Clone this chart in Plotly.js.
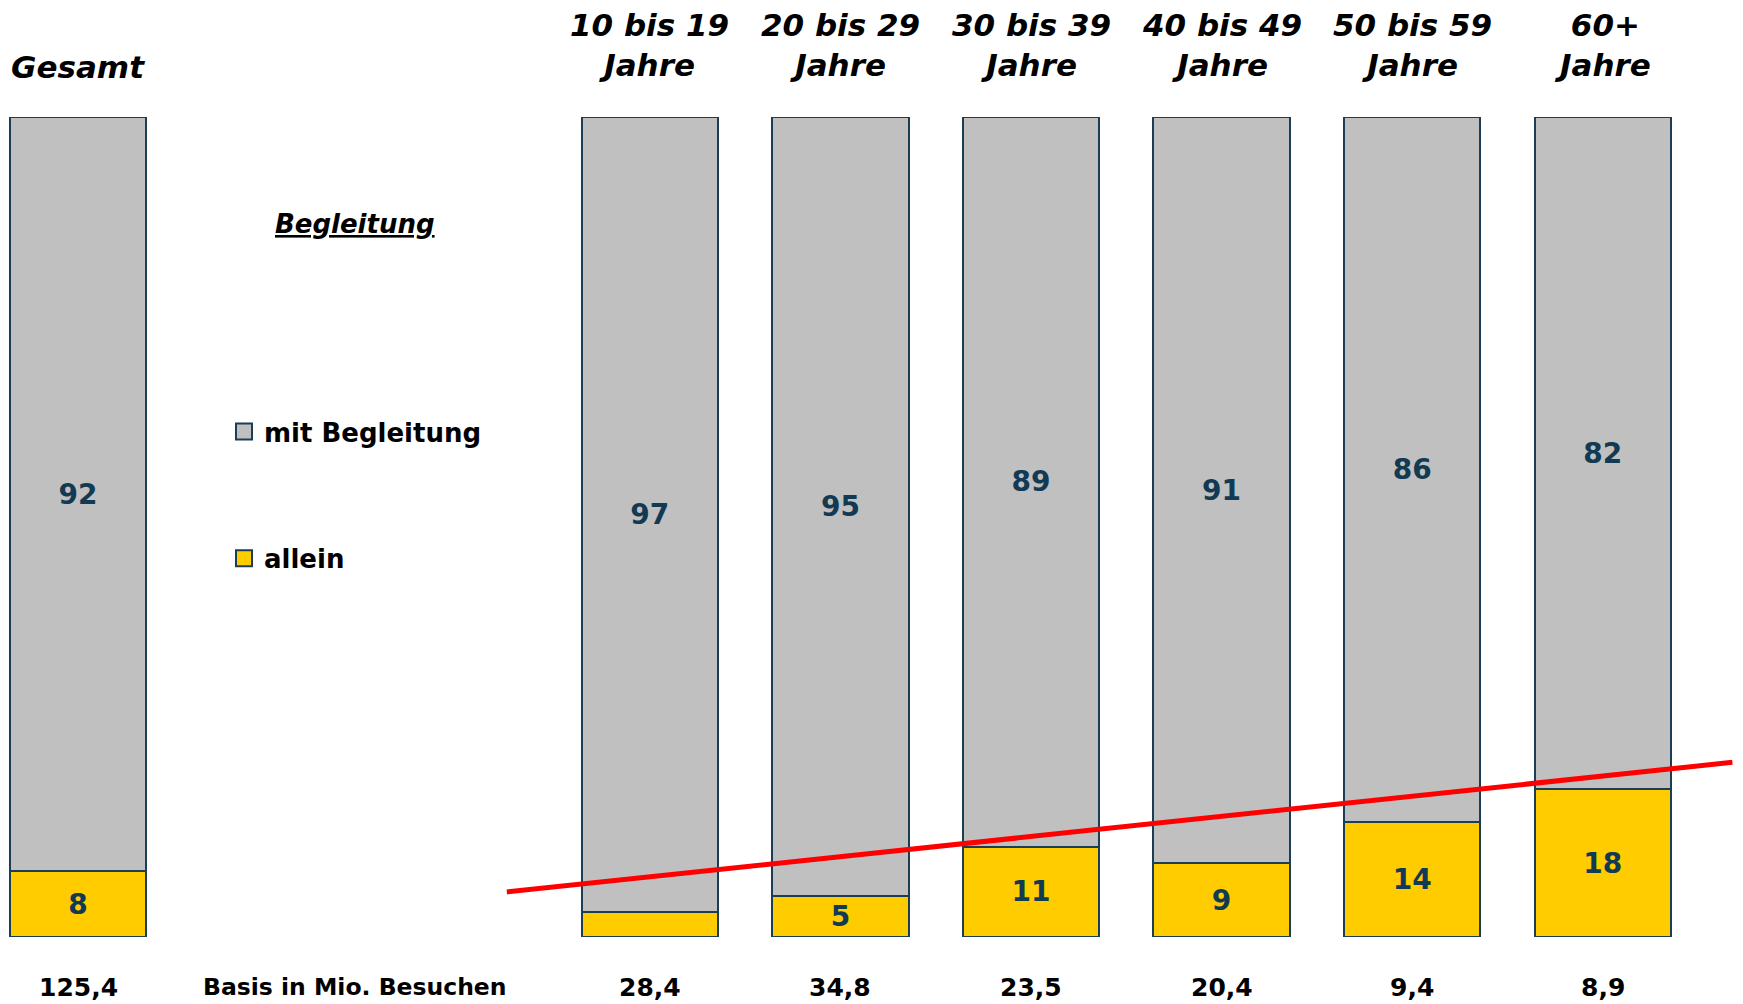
<!DOCTYPE html>
<html>
<head>
<meta charset="utf-8">
<script src="https://cdn.plot.ly/plotly-3.0.1.min.js"></script>
<style>
html,body{margin:0;padding:0;background:#fff;}
#chart{width:1743px;height:1004px;}
</style>
</head>
<body>
<div id="chart"></div>
<script>
// ---- data ----
const categories = ["Gesamt", "10 bis 19<br>Jahre", "20 bis 29<br>Jahre", "30 bis 39<br>Jahre", "40 bis 49<br>Jahre", "50 bis 59<br>Jahre", "60+<br>Jahre"];
const slots = [0, 3, 4, 5, 6, 7, 8];
const allein = [8, 3, 5, 11, 9, 14, 18];
const mitBegleitung = [92, 97, 95, 89, 91, 86, 82];
const basis = ["125,4", "28,4", "34,8", "23,5", "20,4", "9,4", "8,9"];
const basisTitle = "Basis in Mio. Besuchen";
const legendTitle = "Begleitung";
const seriesNames = ["allein", "mit Begleitung"];
const trendX = [2.25, 8.68];
const trendY = [5.5, 21.3];

// ---- styles ----
const FONT = "DejaVu Sans, Verdana, sans-serif";
const NAVY = "#123a53";
const OUTLINE = "#1b3d55";
const COLORS = ["#ffcc00", "#c0c0c0"];
const labelOf = v => (v >= 5 ? String(v) : "");

const barCommon = {
  type: "bar",
  x: slots,
  width: 0.715,
  textposition: "inside",
  insidetextanchor: "middle",
  constraintext: "none",
  textangle: 0,
  textfont: {family: FONT, size: 28, color: NAVY, weight: "bold"},
  hoverinfo: "skip",
  showlegend: false
};

const traces = [
  Object.assign({}, barCommon, {
    name: seriesNames[0],
    y: allein,
    text: allein.map(labelOf),
    marker: {color: COLORS[0], line: {color: OUTLINE, width: 2}}
  }),
  Object.assign({}, barCommon, {
    name: seriesNames[1],
    y: mitBegleitung,
    text: mitBegleitung.map(labelOf),
    marker: {color: COLORS[1], line: {color: OUTLINE, width: 2}}
  }),
  {
    type: "scatter",
    mode: "lines",
    x: trendX,
    y: trendY,
    line: {color: "#ff0000", width: 5},
    showlegend: false,
    hoverinfo: "skip"
  },
  // legend entries (square swatches)
  {
    type: "scatter", mode: "markers", name: seriesNames[1],
    x: [null], y: [null], legendgroup: "b", legendrank: 1,
    marker: {symbol: "square", size: 16, color: COLORS[1], line: {color: OUTLINE, width: 2}}
  },
  {
    type: "scatter", mode: "markers", name: seriesNames[0],
    x: [null], y: [null], legendgroup: "a", legendrank: 2,
    marker: {symbol: "square", size: 16, color: COLORS[0], line: {color: OUTLINE, width: 2}}
  }
];

const annotations = [];
categories.forEach((c, i) => {
  annotations.push({
    x: slots[i], xref: "x", y: i === 0 ? 1.061 : 1.088, yref: "paper",
    text: "<b><i>" + c + "</i></b>", showarrow: false,
    xanchor: "center", yanchor: "middle",
    font: {family: FONT, size: 31, color: "#000"}
  });
  annotations.push({
    x: slots[i], xref: "x", y: -0.061, yref: "paper",
    text: "<b>" + basis[i] + "</b>", showarrow: false,
    xanchor: "center", yanchor: "middle",
    font: {family: FONT, size: 25, color: "#000"}
  });
});
annotations.push({
  x: 1.453, xref: "x", y: -0.061, yref: "paper",
  text: "<b>" + basisTitle + "</b>", showarrow: false,
  xanchor: "center", yanchor: "middle",
  font: {family: FONT, size: 23.5, color: "#000"}
});
annotations.push({
  x: 1.453, xref: "x", y: (937 - 224) / 820, yref: "paper",
  text: "<b><i>" + legendTitle + "</i></b>", showarrow: false,
  xanchor: "center", yanchor: "middle",
  font: {family: FONT, size: 26, color: "#000", lineposition: "under"}
});

const layout = {
  width: 1743, height: 1004,
  margin: {l: 0, r: 0, t: 117, b: 67, pad: 0},
  paper_bgcolor: "#fff", plot_bgcolor: "#fff",
  barmode: "stack",
  showlegend: true,
  legend: {
    x: 224 / 1743, xanchor: "left",
    y: (937 - 408) / 820, yanchor: "top",
    font: {family: FONT, size: 26, color: "#000", weight: "bold"},
    tracegroupgap: 90,
    itemsizing: "trace",
    bgcolor: "rgba(0,0,0,0)",
    traceorder: "grouped"
  },
  xaxis: {range: [-78 / 190.6, (1743 - 78) / 190.6], visible: false, fixedrange: true},
  yaxis: {range: [0, 100], visible: false, fixedrange: true},
  annotations: annotations
};

Plotly.newPlot("chart", traces, layout, {displayModeBar: false, staticPlot: true});
</script>
</body>
</html>
